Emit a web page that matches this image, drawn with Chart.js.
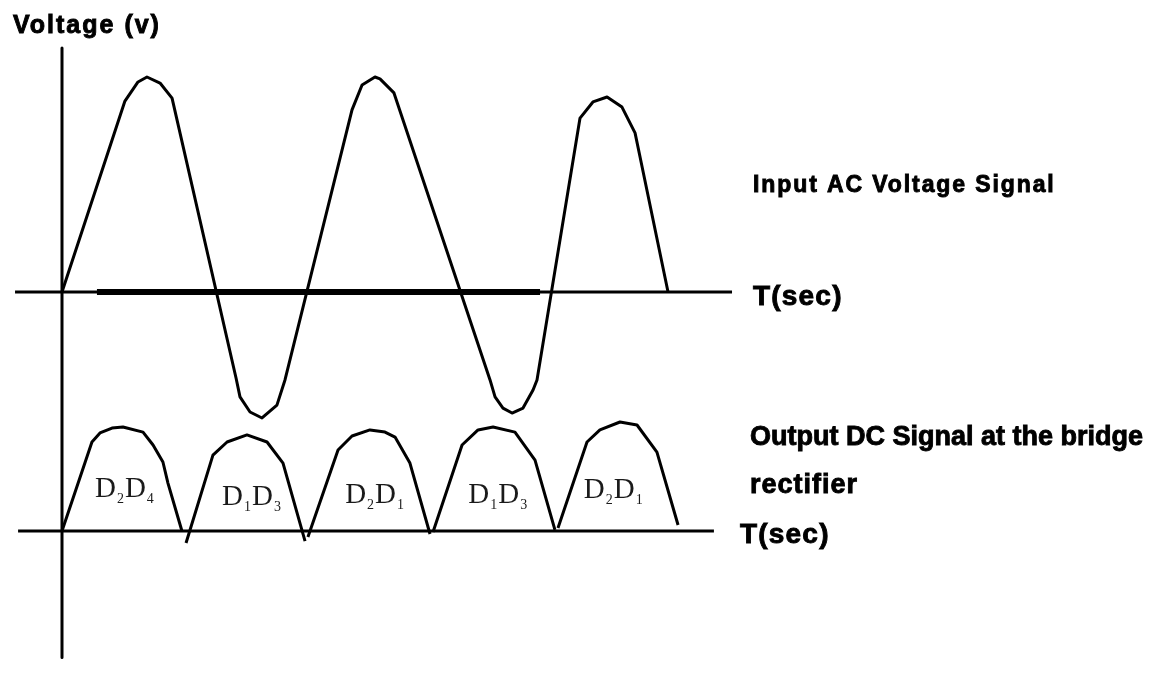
<!DOCTYPE html>
<html>
<head>
<meta charset="utf-8">
<script src="https://cdn.jsdelivr.net/npm/chart.js@4.4.0/dist/chart.umd.min.js"></script>
<style>
  html, body { margin: 0; padding: 0; background: #fff; }
  #wrap { width: 1156px; height: 687px; position: relative; }
</style>
</head>
<body>
<div id="wrap"><canvas id="rectifierChart"></canvas></div>
<script>
// time in ms, voltage in V
const inputTime = [0, 4.14, 5.00, 5.59, 6.45, 7.24, 11.45, 11.71, 12.37, 13.16, 14.14, 14.67,
  19.08, 19.74, 20.59, 20.92, 21.84, 28.16, 28.49, 29.01, 29.61, 30.33, 30.99, 31.25,
  34.08, 34.93, 35.86, 36.84, 37.70, 38.03, 39.87];
const inputVolt = [0, 8.88, 9.77, 10.0, 9.72, 9.02, -4.00, -4.88, -5.58, -5.86, -5.26, -4.09,
  8.47, 9.63, 10.0, 9.91, 9.26, -4.09, -4.88, -5.40, -5.63, -5.40, -4.56, -4.09,
  8.09, 8.84, 9.07, 8.60, 7.40, 6.28, 0];

// rectified output, null = pen lifted between half cycles
const outputTime = [0, 1.97, 2.50, 3.29, 4.01, 5.33, 5.99, 6.64, 6.97, 7.89, 8.0,
  8.16, 9.93, 10.86, 12.17, 13.49, 14.54, 15.99, 16.1,
  16.18, 18.16, 19.08, 20.26, 21.25, 21.91, 22.89, 24.21, 24.3,
  24.41, 26.32, 27.37, 28.36, 29.80, 31.12, 32.43, 32.5,
  32.63, 34.54, 35.39, 36.71, 37.83, 39.14, 40.53];
const outputVolt = [0, 4.14, 4.56, 4.79, 4.84, 4.60, 4.00, 3.21, 2.23, 0, null,
  -0.56, 3.53, 4.14, 4.47, 4.14, 3.16, -0.47, null,
  -0.28, 3.77, 4.42, 4.70, 4.60, 4.37, 3.16, -0.14, null,
  -0.05, 4.00, 4.70, 4.84, 4.60, 3.30, 0.05, null,
  0.14, 4.14, 4.70, 5.07, 4.93, 3.67, 0.28];

// axis lines drawn in the sketch (time range, voltage range)
const voltAxisRange = [11.35, -17.0];
const inTimeAxis = [-3.09, 44.08];
const inTimeAxisBold = [2.30, 31.45];
const outTimeAxis = [-2.89, 42.89];

// which diodes conduct on each half cycle
const diodeFirst = [2, 1, 2, 1, 2];
const diodeSecond = [4, 3, 1, 3, 1];
const diodeTime = [4.14, 12.5, 20.6, 28.7, 36.3];
const diodeVolt = [1.58, 1.21, 1.30, 1.30, 1.53];

const yLabel = 'Voltage (v)';
const xLabel = 'T(sec)';
const inputLabel = 'Input AC Voltage Signal';
const outputLabel = ['Output DC Signal at the bridge', 'rectifier'];

function toPoints(xs, ys) {
  return xs.map((x, i) => ({ x: x, y: ys[i] }));
}

function lineSet(data, axis, width) {
  return {
    data: data,
    yAxisID: axis,
    borderColor: '#000',
    borderWidth: width,
    pointRadius: 0,
    tension: 0,
    fill: false,
    spanGaps: false,
    borderCapStyle: 'butt',
    borderJoinStyle: 'round'
  };
}

// heavy text: fill plus a thin stroke so it looks like the scanned bold type
function heavyText(ctx, text, px, py) {
  ctx.fillText(text, px, py);
  ctx.strokeText(text, px, py);
}

const sketchText = {
  id: 'sketchText',
  afterDatasetsDraw(chart) {
    const ctx = chart.ctx;
    const x = chart.scales.x, yIn = chart.scales.yIn, yOut = chart.scales.yOut;
    ctx.save();
    ctx.fillStyle = '#000';
    ctx.strokeStyle = '#000';
    ctx.lineWidth = 0.9;
    ctx.textBaseline = 'alphabetic';
    ctx.textAlign = 'left';

    ctx.font = 'bold 25px "Liberation Sans", Arial, sans-serif';
    ctx.letterSpacing = '2px';
    heavyText(ctx, yLabel, 13, 33);

    ctx.font = 'bold 23px "Liberation Sans", Arial, sans-serif';
    ctx.letterSpacing = '1.9px';
    heavyText(ctx, inputLabel, 753, 192);

    ctx.font = 'bold 27px "Liberation Sans", Arial, sans-serif';
    ctx.letterSpacing = '0px';
    heavyText(ctx, outputLabel[0], 750, 445);
    ctx.letterSpacing = '1px';
    heavyText(ctx, outputLabel[1], 750, 493);

    ctx.font = 'bold 28px "Liberation Sans", Arial, sans-serif';
    ctx.letterSpacing = '1.2px';
    heavyText(ctx, xLabel, 753, yIn.getPixelForValue(0) + 13);
    heavyText(ctx, xLabel, 740, yOut.getPixelForValue(0) + 12);
    ctx.letterSpacing = '0px';

    // D labels with subscripts
    ctx.fillStyle = '#1a1a1a';
    const big = '29px "Liberation Serif", "Times New Roman", serif';
    const small = '14px "Liberation Serif", "Times New Roman", serif';
    diodeTime.forEach((t, i) => {
      const parts = [['D', big, 0], [String(diodeFirst[i]), small, 6], ['D', big, 0], [String(diodeSecond[i]), small, 6]];
      let w = 0;
      parts.forEach(p => { ctx.font = p[1]; w += ctx.measureText(p[0]).width + 1; });
      let px = x.getPixelForValue(t) - w / 2;
      const base = yOut.getPixelForValue(diodeVolt[i]);
      parts.forEach(p => {
        ctx.font = p[1];
        ctx.fillText(p[0], px, base + p[2]);
        px += ctx.measureText(p[0]).width + 1;
      });
    });
    ctx.restore();
  }
};

const ctx = document.getElementById('rectifierChart').getContext('2d');
new Chart(ctx, {
  type: 'line',
  data: {
    datasets: [
      lineSet(toPoints(inputTime, inputVolt), 'yIn', 3),
      lineSet(toPoints(outputTime, outputVolt), 'yOut', 3),
      lineSet(toPoints([0, 0], voltAxisRange), 'yIn', 3),
      lineSet(toPoints(inTimeAxis, [0, 0]), 'yIn', 3),
      lineSet(toPoints(inTimeAxisBold, [0, 0]), 'yIn', 6),
      lineSet(toPoints(outTimeAxis, [0, 0]), 'yOut', 3)
    ]
  },
  options: {
    responsive: true,
    maintainAspectRatio: false,
    animation: false,
    layout: { padding: 0 },
    plugins: { legend: { display: false }, tooltip: { enabled: false }, title: { display: false } },
    scales: {
      x: { type: 'linear', display: false, min: -62 / 15.2, max: (1156 - 62) / 15.2 },
      yIn: { type: 'linear', display: false, min: -395 / 21.5, max: 292 / 21.5 },
      yOut: { type: 'linear', display: false, min: -156 / 21.5, max: 531 / 21.5 }
    }
  },
  plugins: [sketchText]
});
</script>
</body>
</html>
